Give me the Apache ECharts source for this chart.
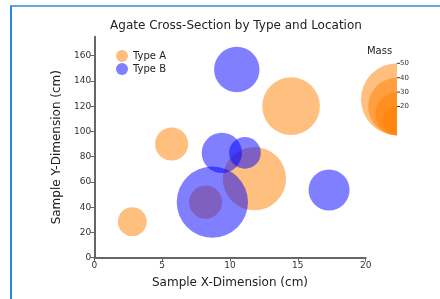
<!DOCTYPE html>
<html>
<head>
<meta charset="utf-8">
<script src="https://cdn.jsdelivr.net/npm/echarts@6/dist/echarts.min.js"></script>
<style>
  html, body { margin: 0; padding: 0; background: #fff; }
  #chart { position: absolute; left: 0; top: 0; width: 440px; height: 299px; }
  #frame { position: absolute; left: 10px; top: 5px; width: 440px; height: 320px;
           border-left: 2px solid #2a8ae0; border-top: 2px solid #62a8e4; pointer-events: none; }
</style>
</head>
<body>
<div id="chart"></div>
<div id="frame"></div>
<script>
// Type A
const typeAX = [2.8, 5.7, 14.5, 11.8, 8.2];
const typeAY = [28.5, 90, 120, 62.6, 44];
const typeAMass = [20, 23, 40, 44, 23];
// Type B
const typeBX = [10.5, 9.4, 11.1, 8.7, 17.3];
const typeBY = [149, 83, 83, 44, 53.6];
const typeBMass = [31.5, 28, 22, 49.5, 28.5];
// size legend
const massTicks = [50, 40, 30, 20];
const xTicks = [0, 5, 10, 15, 20];
const yTicks = [0, 20, 40, 60, 80, 100, 120, 140, 160];

const FONT = 'DejaVu Sans';
const sizeOf = m => m * 1.44; // diameter in px

const pts = (xs, ys, ms) => xs.map((x, i) => [x, ys[i], ms[i]]);

const chart = echarts.init(document.getElementById('chart'));

// size legend: half circles, bottom aligned, flat edge on the right
const legX = 397, legBottom = 135.3;
const legendGraphics = [];
massTicks.forEach(m => {
  const r = sizeOf(m) / 2;
  legendGraphics.push({
    type: 'sector',
    shape: { cx: legX, cy: legBottom - r, r: r, r0: 0, startAngle: Math.PI / 2, endAngle: Math.PI * 3 / 2 },
    style: { fill: 'rgba(255,127,0,0.5)' }
  });
});
massTicks.forEach(m => {
  const top = legBottom - sizeOf(m);
  legendGraphics.push({
    type: 'line',
    shape: { x1: legX, y1: top, x2: legX + 3, y2: top },
    style: { stroke: '#333', lineWidth: 1 }
  });
  legendGraphics.push({
    type: 'text',
    x: legX + 3, y: top,
    style: { text: String(m), fill: '#333', font: '7px ' + FONT, verticalAlign: 'middle', align: 'left' }
  });
});
legendGraphics.push({
  type: 'text',
  x: 379.5, y: 51.5,
  style: { text: 'Mass', fill: '#222', font: '10px ' + FONT, align: 'center', verticalAlign: 'middle' }
});

chart.setOption({
  animation: false,
  backgroundColor: '#fff',
  textStyle: { fontFamily: FONT },
  title: {
    text: 'Agate Cross-Section by Type and Location',
    left: 231, top: 15, textAlign: 'center',
    textStyle: { fontSize: 12, fontWeight: 'normal', color: '#222', fontFamily: FONT }
  },
  legend: {
    left: 111, top: 45, orient: 'vertical',
    itemWidth: 12, itemHeight: 12, itemGap: 1,
    icon: 'circle',
    data: [
      { name: 'Type A', itemStyle: { color: '#ffbf80', opacity: 1 } },
      { name: 'Type B', itemStyle: { color: '#8080ff', opacity: 1 } }
    ],
    textStyle: { fontSize: 10, color: '#222', fontFamily: FONT }
  },
  grid: { left: 94.3, right: 74.3, top: 36.7, bottom: 41.3, containLabel: false },
  xAxis: {
    type: 'value', min: 0, max: 20, interval: 5,
    name: 'Sample X-Dimension (cm)', nameLocation: 'middle', nameGap: 19,
    nameTextStyle: { fontSize: 12, color: '#222', fontFamily: FONT },
    axisLine: { show: true, lineStyle: { color: '#666', width: 2 } },
    axisTick: { show: true, length: 4, lineStyle: { color: '#666' }, customValues: xTicks },
    axisLabel: { fontSize: 9, color: '#333', margin: 3, customValues: xTicks },
    splitLine: { show: false }
  },
  yAxis: {
    type: 'value', min: 0, max: 175, interval: 20,
    name: 'Sample Y-Dimension (cm)', nameLocation: 'middle', nameGap: 29,
    nameTextStyle: { fontSize: 12, color: '#222', fontFamily: FONT },
    axisLine: { show: true, lineStyle: { color: '#666', width: 2 } },
    axisTick: { show: true, length: 4, lineStyle: { color: '#666' }, customValues: yTicks },
    axisLabel: { fontSize: 9, color: '#333', margin: 3, customValues: yTicks },
    splitLine: { show: false }
  },
  graphic: legendGraphics,
  series: [
    {
      name: 'Type A', type: 'scatter',
      data: pts(typeAX, typeAY, typeAMass),
      symbolSize: v => sizeOf(v[2]),
      itemStyle: { color: '#ff7f00', opacity: 0.5 }
    },
    {
      name: 'Type B', type: 'scatter',
      data: pts(typeBX, typeBY, typeBMass),
      symbolSize: v => sizeOf(v[2]),
      itemStyle: { color: '#0000ff', opacity: 0.5 }
    }
  ]
});
</script>
</body>
</html>
